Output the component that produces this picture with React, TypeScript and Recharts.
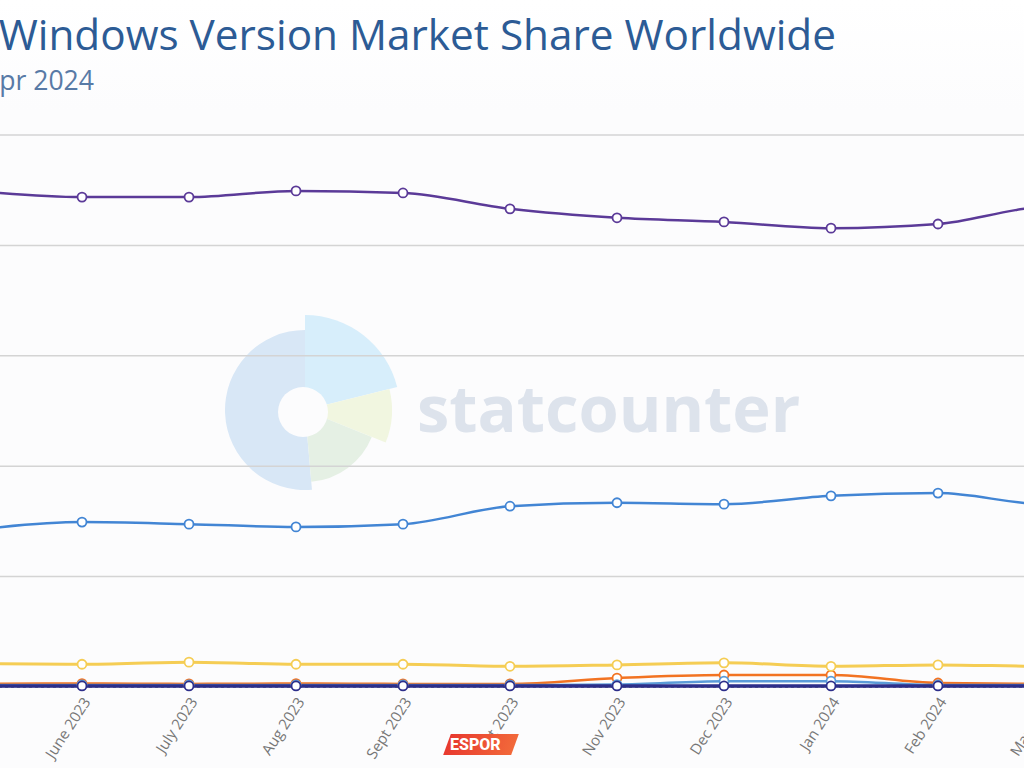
import { LineChart, Line, XAxis, YAxis, CartesianGrid } from "recharts";

const MONTHS = ["May 2023", "June 2023", "July 2023", "Aug 2023", "Sept 2023", "Oct 2023", "Nov 2023", "Dec 2023", "Jan 2024", "Feb 2024", "Mar 2024", "Apr 2024"];
const WIN10 = [71.9, 71.0, 71.0, 71.9, 71.6, 69.3, 68.0, 67.4, 66.5, 67.1, 69.5, 68.9];
const WIN11 = [22.8, 23.9, 23.6, 23.2, 23.6, 26.2, 26.7, 26.5, 27.7, 28.1, 26.5, 27.3];
const WIN7 = [3.4, 3.3, 3.6, 3.3, 3.3, 3.0, 3.2, 3.5, 3.0, 3.2, 3.0, 3.1];
const WIN81 = [0.45, 0.5, 0.45, 0.5, 0.45, 0.45, 1.3, 1.74, 1.74, 0.58, 0.45, 0.45];
const WIN8 = [0.3, 0.3, 0.3, 0.3, 0.3, 0.3, 0.35, 0.85, 0.85, 0.3, 0.3, 0.3];
const WINXP = [0.15, 0.15, 0.15, 0.15, 0.15, 0.15, 0.15, 0.15, 0.15, 0.15, 0.15, 0.15];
const OTHER = [0.05, 0.05, 0.05, 0.05, 0.05, 0.05, 0.05, 0.05, 0.05, 0.05, 0.05, 0.05];
const Y_TICKS = [0, 16, 32, 48, 64, 80];

const data = MONTHS.map((m, i) => ({
  month: m,
  win10: WIN10[i],
  win11: WIN11[i],
  win7: WIN7[i],
  win81: WIN81[i],
  win8: WIN8[i],
  winxp: WINXP[i],
  other: OTHER[i],
}));

const FONT = "'Open Sans', sans-serif";

function MonthTick({ x, y, payload }: { x?: number; y?: number; payload?: { value: string } }) {
  return (
    <g transform={`translate(${(x ?? 0) + 5},${(y ?? 0) + 4}) rotate(-57)`}>
      <text textAnchor="end" dy={5} fontSize={15} fill="#777" fontFamily={FONT}>
        {payload?.value}
      </text>
    </g>
  );
}

const dot = (c: string) => ({ r: 4.5, fill: "#fff", stroke: c, strokeWidth: 1.8 });

// pie slice path for the watermark logo
function slice(cx: number, cy: number, r: number, a0: number, a1: number) {
  const p = (a: number) => [cx + r * Math.cos((a * Math.PI) / 180), cy - r * Math.sin((a * Math.PI) / 180)];
  const [x0, y0] = p(a0);
  const [x1, y1] = p(a1);
  const large = Math.abs(a1 - a0) > 180 ? 1 : 0;
  const sweep = a1 > a0 ? 0 : 1;
  return `M${cx},${cy} L${x0},${y0} A${r},${r} 0 ${large} ${sweep} ${x1},${y1} Z`;
}

function Watermark() {
  const cx = 305, cy = 410;
  return (
    <svg width={1024} height={768} style={{ position: "absolute", left: 0, top: 0 }}>
      <path d={slice(cx, cy, 80, 90, 275)} fill="#d8e7f6" />
      <path d={slice(cx, cy, 95, 90, 14)} fill="#d7eefb" />
      <path d={slice(cx, cy, 87, 14, -22)} fill="#f1f6e0" />
      <path d={slice(cx, cy, 72, -22, -85)} fill="#e5f0e4" />
      <circle cx={cx - 2} cy={cy + 2} r={25} fill="#fcfcfd" />
      <text x={417} y={432} fontSize={65} fontWeight={700} fill="#dde3ec" fontFamily={FONT}>statcounter</text>
    </svg>
  );
}

export default function App() {
  return (
    <div style={{ position: "fixed", left: 0, top: 0, width: 1024, height: 768, overflow: "hidden", background: "#fcfcfd", fontFamily: FONT }}>
      <div style={{ position: "absolute", left: 0, top: 0, width: 1024, height: 110, background: "linear-gradient(#fff,#fcfcfd)" }} />
      <Watermark />
      <div style={{ position: "absolute", left: -600, width: 1436, top: 13, fontSize: 42.3, lineHeight: "42px", color: "#2c5b95", textAlign: "right", whiteSpace: "nowrap" }}>
        Desktop Windows Version Market Share Worldwide
      </div>
      <div style={{ position: "absolute", left: -600, width: 694, top: 67, fontSize: 26.6, lineHeight: "26px", color: "#587aa6", textAlign: "right", whiteSpace: "nowrap" }}>
        May 2023 - Apr 2024
      </div>
      <div style={{ position: "absolute", left: -100, top: 0 }}>
        <LineChart width={1350} height={768} data={data} margin={{ top: 135, right: 0, left: 0, bottom: 0 }}>
          <CartesianGrid vertical={false} stroke="#d4d4d4" strokeWidth={1.5} />
          <XAxis
            dataKey="month"
            height={81}
            axisLine={false}
            tickLine={false}
            interval={0}
            padding={{ left: 75, right: 98 }}
            tick={<MonthTick />}
          />
          <YAxis hide domain={[0, 80]} ticks={Y_TICKS} />
          <Line type="monotone" dataKey="other" stroke="#333" strokeWidth={1.5} strokeDasharray="3 3" dot={false} isAnimationActive={false} />
          <Line type="monotone" dataKey="win81" stroke="#f27322" strokeWidth={2.5} dot={dot("#f27322")} isAnimationActive={false} />
          <Line type="monotone" dataKey="win8" stroke="#5b9bd8" strokeWidth={2.5} dot={dot("#5b9bd8")} isAnimationActive={false} />
          <Line type="monotone" dataKey="winxp" stroke="#2d2e8a" strokeWidth={3.5} dot={dot("#2d2e8a")} isAnimationActive={false} />
          <Line type="monotone" dataKey="win7" stroke="#f5cd54" strokeWidth={3} dot={dot("#f5cd54")} isAnimationActive={false} />
          <Line type="monotone" dataKey="win11" stroke="#4285d4" strokeWidth={2.5} dot={dot("#4285d4")} isAnimationActive={false} />
          <Line type="monotone" dataKey="win10" stroke="#5b3a98" strokeWidth={2.5} dot={dot("#5b3a98")} isAnimationActive={false} />
        </LineChart>
      </div>
      <div style={{ position: "absolute", left: 447, top: 734, width: 68, height: 21, background: "linear-gradient(90deg,#e8392f,#f2693a)", transform: "skewX(-20deg)" }} />
      <div style={{ position: "absolute", left: 450, top: 734, fontSize: 16, lineHeight: "21px", fontWeight: 800, color: "#fff", fontFamily: "Roboto, sans-serif" }}>ESPOR</div>
    </div>
  );
}
